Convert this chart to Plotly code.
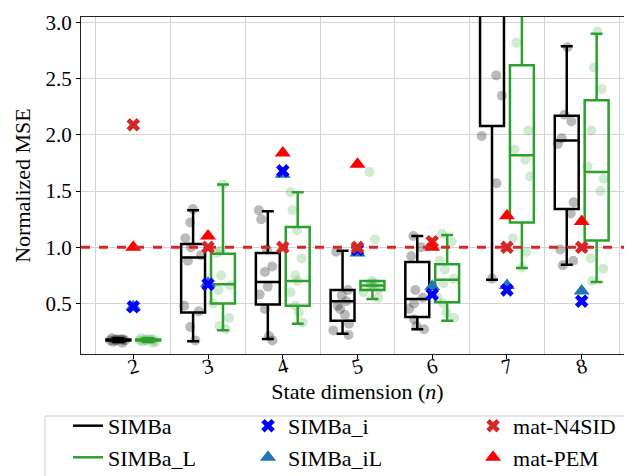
import plotly.graph_objects as go

# ---------------- data ----------------
state_dims = [2, 3, 4, 5, 6, 7, 8]

# individual runs (strip points)
simba_pts = {
    2: [0.18, 0.17, 0.18, 0.15, 0.18, 0.17, 0.16, 0.18, 0.17, 0.19],
    3: [0.17, 0.29, 0.43, 0.48, 0.88, 0.93, 1.00, 1.08, 1.22, 1.34],
    4: [0.17, 0.21, 0.45, 0.58, 0.65, 0.78, 0.83, 0.98, 1.25, 1.33],
    5: [0.96, 0.62, 0.57, 0.52, 0.48, 0.45, 0.40, 0.32, 0.26, 0.22],
    6: [1.10, 1.00, 0.92, 0.62, 0.55, 0.50, 0.45, 0.36, 0.30, 0.27],
    7: [0.72, 1.57, 1.99, 2.35, 2.53, 3.30, 3.60, 4.00, 4.50, 5.20],
    8: [0.84, 0.88, 0.98, 1.30, 1.40, 1.92, 1.97, 2.12, 2.18, 2.78],
}
simbaL_pts = {
    2: [0.18, 0.17, 0.16, 0.18, 0.15, 0.18, 0.17, 0.19, 0.16, 0.18],
    3: [0.27, 0.30, 0.37, 0.50, 0.62, 0.66, 0.75, 0.95, 0.97, 1.56],
    4: [0.33, 0.42, 0.48, 0.60, 0.70, 0.75, 0.90, 1.15, 1.33, 1.49],
    5: [0.55, 0.60, 0.63, 0.65, 0.66, 0.67, 0.68, 0.70, 1.07, 1.67],
    6: [0.37, 0.42, 0.50, 0.55, 0.68, 0.72, 0.80, 0.88, 1.05, 1.12],
    7: [0.82, 0.96, 1.08, 1.63, 1.78, 1.87, 2.04, 2.82, 3.40, 3.90],
    8: [0.70, 0.81, 0.90, 1.50, 1.61, 1.72, 2.04, 2.41, 2.60, 2.92],
}

# box statistics
simba_q1 = [0.17, 0.42, 0.49, 0.345, 0.38, 2.08, 1.34]
simba_med = [0.175, 0.91, 0.69, 0.52, 0.54, 3.30, 1.95]
simba_q3 = [0.18, 1.03, 0.95, 0.62, 0.87, 4.00, 2.17]
simba_lo = [0.16, 0.163, 0.184, 0.23, 0.27, 0.71, 0.845]
simba_hi = [0.19, 1.33, 1.32, 0.97, 1.10, 5.20, 2.79]

simbaL_q1 = [0.17, 0.50, 0.48, 0.62, 0.51, 1.22, 1.06]
simbaL_med = [0.175, 0.672, 0.70, 0.66, 0.71, 1.82, 1.67]
simbaL_q3 = [0.18, 0.943, 1.18, 0.70, 0.85, 2.62, 2.31]
simbaL_lo = [0.16, 0.262, 0.32, 0.54, 0.345, 0.815, 0.69]
simbaL_hi = [0.19, 1.56, 1.49, 0.70, 1.11, 3.90, 2.90]

simba_i = [0.47, 0.67, 1.68, 0.98, 0.58, 0.62, 0.52]
simba_iL = [0.47, 0.68, 1.65, 0.95, 0.65, 0.66, 0.61]
mat_n4sid = [2.09, 1.00, 1.00, 1.00, 1.05, 1.00, 1.00]
mat_pem = [1.00, 1.10, 1.84, 1.74, 1.00, 1.28, 1.23]

y_ticks = [0.5, 1.0, 1.5, 2.0, 2.5, 3.0]

# ---------------- figure ----------------
FONT = '"Liberation Serif", "Times New Roman", Times, serif'
BLACK = "black"
GREEN = "#2ca02c"

fig = go.Figure()


def flat(d):
    xs, ys = [], []
    for n in state_dims:
        xs += [n] * len(d[n])
        ys += d[n]
    return xs, ys


# strip points (hidden boxes, jittered points)
for pts, col, grp in [(simba_pts, "rgba(0,0,0,0.27)", "a"),
                      (simbaL_pts, "rgba(44,160,44,0.22)", "b")]:
    xs, ys = flat(pts)
    fig.add_trace(go.Box(
        x=xs, y=ys, offsetgroup=grp, boxpoints="all", jitter=0.9, pointpos=0,
        line=dict(color="rgba(0,0,0,0)", width=0), fillcolor="rgba(0,0,0,0)",
        marker=dict(color=col, size=10, line=dict(width=0)),
        showlegend=False, hoverinfo="y",
    ))

# boxes from statistics
for q1, med, q3, lo, hi, col, grp in [
    (simba_q1, simba_med, simba_q3, simba_lo, simba_hi, BLACK, "a"),
    (simbaL_q1, simbaL_med, simbaL_q3, simbaL_lo, simbaL_hi, GREEN, "b"),
]:
    fig.add_trace(go.Box(
        x=state_dims, q1=q1, median=med, q3=q3, lowerfence=lo, upperfence=hi,
        offsetgroup=grp, line=dict(color=col, width=2.5),
        fillcolor="rgba(255,255,255,0)", whiskerwidth=0.5,
        boxpoints=False, showlegend=False,
    ))

# legend proxies for boxes
fig.add_trace(go.Scatter(x=[None], y=[None], mode="lines", name="SIMBa",
                         line=dict(color=BLACK, width=2.5), legend="legend"))
fig.add_trace(go.Scatter(x=[None], y=[None], mode="lines", name="SIMBa_L",
                         line=dict(color=GREEN, width=2.5), legend="legend"))

fig.add_trace(go.Scatter(x=state_dims, y=simba_iL, mode="markers", name="SIMBa_iL",
                         marker=dict(symbol="triangle-up", size=14, color="#1f77b4"),
                         legend="legend2", legendrank=2))
fig.add_trace(go.Scatter(x=state_dims, y=simba_i, mode="markers", name="SIMBa_i",
                         marker=dict(symbol="x", size=12, color="blue", line=dict(width=0)),
                         legend="legend2", legendrank=1))
fig.add_trace(go.Scatter(x=state_dims, y=mat_n4sid, mode="markers", name="mat-N4SID",
                         marker=dict(symbol="x", size=12, color="#d62728", line=dict(width=0)),
                         legend="legend3", legendrank=1))
fig.add_trace(go.Scatter(x=state_dims, y=mat_pem, mode="markers", name="mat-PEM",
                         marker=dict(symbol="triangle-up", size=14, color="red"),
                         legend="legend3", legendrank=2))

fig.add_hline(y=1.0, line=dict(color="#d62728", width=3, dash="dash"))

# legend frame
fig.add_shape(type="rect", xref="paper", yref="paper",
              x0=-0.0651, x1=1.0036, y0=-0.45, y1=-0.184,
              line=dict(color="#cccccc", width=1), fillcolor="rgba(0,0,0,0)")

GRID = "#d4d4d4"
leg_common = dict(orientation="v", xanchor="left", yanchor="top", y=-0.151,
                  bgcolor="rgba(0,0,0,0)", borderwidth=0, itemwidth=30,
                  font=dict(family=FONT, size=22, color="black"),
                  traceorder="normal")
fig.update_layout(
    width=632, height=476,
    margin=dict(l=73, r=6, t=9, b=130, autoexpand=False),
    paper_bgcolor="white", plot_bgcolor="white",
    font=dict(family=FONT, size=22, color="black"),
    boxmode="group", boxgap=0.2, boxgroupgap=0.2,
    showlegend=True,
    legend=dict(x=-0.0235, **leg_common),
    legend2=dict(x=0.302, **leg_common),
    legend3=dict(x=0.709, **leg_common),
    xaxis=dict(
        range=[1.3, 8.7], tickmode="array", tickvals=state_dims,
        ticktext=[str(n) for n in state_dims], tickangle=-15,
        ticklabelstandoff=-12, ticklabelshift=4,
        tickfont=dict(family=FONT, size=21),
        showgrid=False, zeroline=False, ticks="outside", ticklen=4,
        tickcolor="black", showline=True, mirror=True, linecolor="#222", linewidth=1,
        minor=dict(tickmode="linear", tick0=0.5, dtick=1, showgrid=True,
                   gridcolor=GRID, gridwidth=1, ticks=""),
        title=dict(text="State dimension (<i>n</i>)", standoff=0,
                   font=dict(family=FONT, size=22)),
    ),
    yaxis=dict(
        range=[0.05, 3.05], tickmode="array", tickvals=y_ticks,
        ticktext=[f"{v:.1f}" for v in y_ticks],
        tickfont=dict(family=FONT, size=21),
        showgrid=True, gridcolor=GRID, gridwidth=1, zeroline=False,
        ticks="outside", ticklen=4, tickcolor="black",
        showline=True, mirror=True, linecolor="#222", linewidth=1,
        title=dict(text="Normalized MSE", standoff=8,
                   font=dict(family=FONT, size=22)),
    ),
)

fig.write_html("out.html")
